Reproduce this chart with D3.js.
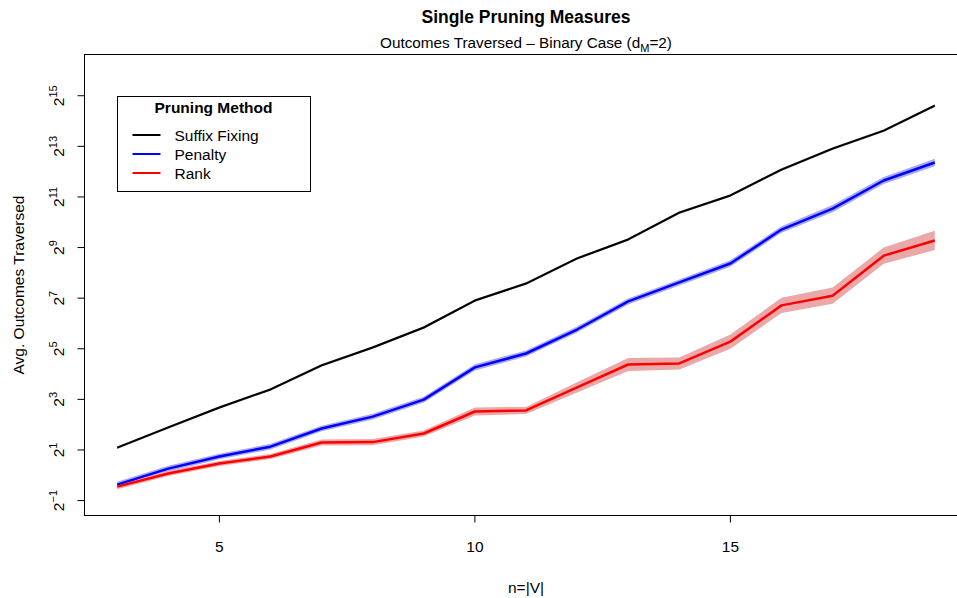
<!DOCTYPE html>
<html>
<head>
<meta charset="utf-8">
<script src="https://cdn.jsdelivr.net/npm/d3@7"></script>
<style>
  body { margin: 0; background: #fff; }
  svg { font-family: "Liberation Sans", Arial, sans-serif; }
</style>
</head>
<body>
<div id="chart"></div>
<script>
// single pruning measures - outcomes traversed, log2 scale

const n_values = [3, 4, 5, 6, 7, 8, 9, 10, 11, 12, 13, 14, 15, 16, 17, 18, 19]

const suffix_fixing = [2.13, 3.71, 6.41, 10.5, 20.3, 33.1, 57.3, 120, 191, 380, 639, 1333, 2135, 4329, 7696, 12590, 25000]
const penalty = [0.774, 1.2, 1.67, 2.19, 3.6, 4.99, 7.94, 19.2, 28.1, 54.2, 117, 197, 331, 838, 1489, 3214, 5256]
const rank = [0.732, 1.05, 1.38, 1.67, 2.45, 2.48, 3.14, 5.74, 5.9, 11.1, 20.8, 21.4, 38.9, 105, 137, 410, 622]

// half-width of the shaded band, in powers of two
const suffix_spread = [0.05, 0.05, 0.05, 0.05, 0.05, 0.05, 0.05, 0.05, 0.05, 0.05, 0.05, 0.05, 0.05, 0.05, 0.05, 0.05, 0.05]
const penalty_spread = [0.11, 0.11, 0.11, 0.11, 0.11, 0.11, 0.11, 0.12, 0.12, 0.12, 0.12, 0.12, 0.13, 0.13, 0.14, 0.14, 0.15]
const rank_spread = [0.1, 0.1, 0.1, 0.1, 0.12, 0.12, 0.12, 0.16, 0.14, 0.2, 0.26, 0.24, 0.28, 0.3, 0.32, 0.32, 0.38]

const x_ticks = [5, 10, 15]
const y_exponents = [-1, 1, 3, 5, 7, 9, 11, 13, 15]

const series_names = ["Suffix Fixing", "Penalty", "Rank"]
const series_colors = ["#000000", "#0000ff", "#ff0000"]
const band_colors = ["#9a9a9a", "#a9a9ef", "#eaa8a8"]

let width = 957
let height = 598
let plot = { left: 84.5, right: 967.5, top: 54.5, bottom: 515.5 }
let font = "15.5px"

var svg = d3.select("#chart")
    .append("svg")
    .attr("width", width)
    .attr("height", height)

var x = d3.scaleLinear()
    .domain([2.36, 19.64])
    .range([plot.left, plot.right])

var y = d3.scaleLog()
    .base(2)
    .domain([Math.pow(2, -1.59), Math.pow(2, 16.63)])
    .range([plot.bottom, plot.top])

// titles
svg.append("text")
    .attr("x", 526).attr("y", 23)
    .attr("text-anchor", "middle")
    .style("font-size", "17.5px").style("font-weight", "bold")
    .text("Single Pruning Measures")

let sub = svg.append("text")
    .attr("x", 526).attr("y", 48)
    .attr("text-anchor", "middle")
    .style("font-size", "15.3px")
sub.append("tspan").text("Outcomes Traversed \u2013 Binary Case (d")
sub.append("tspan").attr("dy", 4).style("font-size", "11px").text("M")
sub.append("tspan").attr("dy", -4).text("=2)")

// bands then lines
let series = [suffix_fixing, penalty, rank]
let spreads = [suffix_spread, penalty_spread, rank_spread]

let g = svg.append("g")

series.forEach((vals, i) => {
    let rows = n_values.map((n, j) => ({ n: n, v: vals[j], s: spreads[i][j] }))

    let area = d3.area()
        .x(d => x(d.n))
        .y0(d => y(d.v / Math.pow(2, d.s)))
        .y1(d => y(d.v * Math.pow(2, d.s)))

    g.append("path")
        .attr("d", area(rows))
        .attr("fill", band_colors[i])
        .attr("stroke", "none")
})

series.forEach((vals, i) => {
    let rows = n_values.map((n, j) => ({ n: n, v: vals[j] }))

    let line = d3.line()
        .x(d => x(d.n))
        .y(d => y(d.v))

    g.append("path")
        .attr("d", line(rows))
        .attr("fill", "none")
        .attr("stroke", series_colors[i])
        .attr("stroke-width", i == 0 ? 2 : 2.5)
        .attr("stroke-linejoin", "round")
})

// plot box
svg.append("rect")
    .attr("x", plot.left).attr("y", plot.top)
    .attr("width", plot.right - plot.left)
    .attr("height", plot.bottom - plot.top)
    .attr("fill", "none")
    .attr("stroke", "#000")
    .attr("stroke-width", 1)

// x axis
let xa = svg.append("g")
xa.append("line")
    .attr("x1", x(x_ticks[0])).attr("x2", x(x_ticks[x_ticks.length - 1]))
    .attr("y1", plot.bottom).attr("y2", plot.bottom)
    .attr("stroke", "#000")
xa.selectAll(null).data(x_ticks).enter()
    .append("line")
    .attr("x1", d => x(d)).attr("x2", d => x(d))
    .attr("y1", plot.bottom).attr("y2", plot.bottom + 7)
    .attr("stroke", "#000")
xa.selectAll(null).data(x_ticks).enter()
    .append("text")
    .attr("x", d => x(d)).attr("y", 552)
    .attr("text-anchor", "middle")
    .style("font-size", font)
    .text(d => d)

svg.append("text")
    .attr("x", 526).attr("y", 593)
    .attr("text-anchor", "middle")
    .style("font-size", font)
    .text("n=|V|")

// y axis
let ya = svg.append("g")
ya.append("line")
    .attr("x1", plot.left).attr("x2", plot.left)
    .attr("y1", y(Math.pow(2, y_exponents[0]))).attr("y2", y(Math.pow(2, y_exponents[y_exponents.length - 1])))
    .attr("stroke", "#000")
ya.selectAll(null).data(y_exponents).enter()
    .append("line")
    .attr("x1", plot.left - 7).attr("x2", plot.left)
    .attr("y1", d => y(Math.pow(2, d))).attr("y2", d => y(Math.pow(2, d)))
    .attr("stroke", "#000")

let ylab = ya.selectAll(null).data(y_exponents).enter()
    .append("text")
    .attr("transform", d => `translate(64,${y(Math.pow(2, d))}) rotate(-90)`)
    .attr("text-anchor", "middle")
    .style("font-size", font)
ylab.append("tspan").text("2")
ylab.append("tspan").attr("dy", -7).style("font-size", "11px").text(d => d < 0 ? "\u22121" : d)

svg.append("text")
    .attr("transform", `translate(24,${(plot.top + plot.bottom) / 2}) rotate(-90)`)
    .attr("text-anchor", "middle")
    .style("font-size", font)
    .text("Avg. Outcomes Traversed")

// legend
const legend = svg.append("g").attr("transform", "translate(117.5,96.5)")

legend.append("rect")
    .attr("width", 193).attr("height", 95)
    .attr("fill", "#fff").attr("stroke", "#000")

legend.append("text")
    .attr("x", 96).attr("y", 16)
    .attr("text-anchor", "middle")
    .style("font-size", font).style("font-weight", "bold")
    .text("Pruning Method")

legend.selectAll(null).data(series_names).enter()
    .append("line")
    .attr("x1", 15).attr("x2", 43)
    .attr("y1", (d, i) => 38.5 + i * 19).attr("y2", (d, i) => 38.5 + i * 19)
    .attr("stroke", (d, i) => series_colors[i])
    .attr("stroke-width", 2)

legend.selectAll(null).data(series_names).enter()
    .append("text")
    .attr("x", 57)
    .attr("y", (d, i) => 44 + i * 19)
    .style("font-size", font)
    .text(d => d)
</script>
</body>
</html>
